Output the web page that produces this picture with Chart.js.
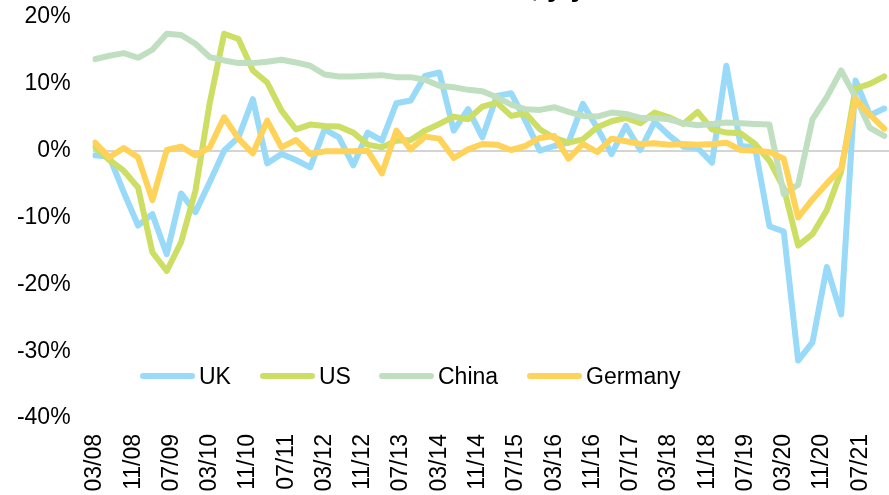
<!DOCTYPE html>
<html lang="en">
<head>
  <meta charset="UTF-8">
  <title>Retail sales, y/y</title>
  <script src="https://cdn.jsdelivr.net/npm/chart.js@4.4.2/dist/chart.umd.min.js"></script>
  <style>
    body {
      margin: 0;
      padding: 0;
      background: #fff;
      font-family: Arial, 'Liberation Sans', sans-serif;
    }

    .wrap {
      position: relative;
      width: 889px;
      height: 495px;
      overflow: hidden;
    }

    .title {
      position: absolute;
      right: 303px;
      top: -27px;
      font-size: 28px;
      line-height: 28px;
      font-weight: bold;
      color: #000;
      white-space: nowrap;
    }

    .legend-item {
      position: absolute;
      top: 362px;
      height: 28px;
      display: flex;
      align-items: center;
      font-size: 23px;
      color: #000;
    }

    .legend-item span.swatch {
      display: inline-block;
      width: 55px;
      height: 6px;
      border-radius: 3px;
      margin-right: 4px;
    }
  </style>
</head>
<body>

  <div class="wrap">
    <canvas id="myChart" width="889" height="495"></canvas>
    <div class="title">Retail sales, y/y</div>
    <div id="legend"></div>
  </div>

  <script>
    // quarterly observations
    const quarters = [
      "03/08","06/08","09/08","12/08","03/09","06/09","09/09","12/09",
      "03/10","06/10","09/10","12/10","03/11","06/11","09/11","12/11",
      "03/12","06/12","09/12","12/12","03/13","06/13","09/13","12/13",
      "03/14","06/14","09/14","12/14","03/15","06/15","09/15","12/15",
      "03/16","06/16","09/16","12/16","03/17","06/17","09/17","12/17",
      "03/18","06/18","09/18","12/18","03/19","06/19","09/19","12/19",
      "03/20","06/20","09/20","12/20","03/21","06/21","09/21","12/21"
    ];

    const uk = [
      -0.7, -0.9, -6.2, -11.2, -9.5, -15.5, -6.4, -9.2,
      -4.7, 0.0, 2.0, 7.7, -1.9, -0.5, -1.4, -2.5,
      3.2, 2.0, -2.2, 2.7, 1.5, 7.1, 7.5, 11.2,
      11.7, 3.0, 6.2, 2.0, 8.2, 8.6, 4.5, 0.0,
      0.7, 1.2, 7.0, 3.4, -0.5, 3.7, 0.1, 4.3,
      2.3, 0.6, 0.4, -1.8, 12.7, 0.7, 0.5, -11.3,
      -12.1, -31.4, -28.7, -17.4, -24.5, 10.5, 5.3, 6.3
    ];

    const us = [
      0.5, -1.4, -3.0, -5.5, -15.2, -18.0, -13.7, -6.0,
      7.2, 17.5, 16.7, 12.0, 10.2, 6.0, 3.2, 3.9,
      3.7, 3.6, 2.7, 0.9, 0.5, 1.5, 1.6, 3.0,
      4.0, 5.1, 4.7, 6.6, 7.2, 5.2, 5.6, 3.2,
      1.9, 1.2, 1.7, 3.5, 4.4, 4.9, 4.1, 5.7,
      5.0, 4.0, 5.8, 3.2, 2.7, 2.6, 1.0, -1.5,
      -5.6, -14.2, -12.5, -8.9, -3.1, 9.3, 10.0, 11.1
    ];

    const china = [
      13.7, 14.2, 14.6, 13.9, 15.1, 17.5, 17.3, 16.0,
      14.0, 13.5, 13.1, 13.1, 13.3, 13.6, 13.2, 12.7,
      11.4, 11.1, 11.1, 11.2, 11.3, 11.0, 11.0, 10.6,
      9.7, 9.5, 9.1, 8.9, 8.0, 6.9, 6.2, 6.1,
      6.5, 5.8, 5.2, 5.1, 5.7, 5.5, 4.9, 4.9,
      4.7, 4.1, 3.8, 4.0, 4.2, 4.1, 4.0, 3.9,
      -6.5, -5.1, 4.7, 8.0, 12.0, 8.0, 3.4, 2.2
    ];

    const germany = [
      1.2, -1.0, 0.4, -1.0, -7.4, 0.1, 0.6, -0.7,
      0.5, 5.0, 1.8, -0.4, 4.5, 0.5, 1.6, -0.5,
      -0.1, -0.1, -0.1, 0.0, -3.4, 3.0, 0.2, 2.1,
      1.8, -1.1, 0.2, 1.0, 0.9, 0.1, 0.7, 1.9,
      2.2, -1.2, 1.0, -0.2, 1.8, 1.4, 1.0, 1.1,
      0.9, 1.0, 0.9, 1.0, 1.2, 0.1, 0.0, -0.2,
      -1.2, -10.0, -7.3, -4.9, -2.7, 7.7, 5.4, 3.3
    ];

    const tickLabels = [
      "03/08","11/08","07/09","03/10","11/10","07/11","03/12","11/12",
      "07/13","03/14","11/14","07/15","03/16","11/16","07/17","03/18",
      "11/18","07/19","03/20","11/20","07/21"
    ];

    const yTicks = [-40, -30, -20, -10, 0, 10, 20];

    const series = [
      { label: 'UK', data: uk, color: '#98daf8', left: 140 },
      { label: 'US', data: us, color: '#ccde64', left: 260 },
      { label: 'China', data: china, color: '#c0dfc0', left: 379 },
      { label: 'Germany', data: germany, color: '#ffd25a', left: 527 }
    ];

    // months since 03/08
    function monthIndex(s) {
      const mm = parseInt(s.slice(0, 2), 10);
      const yy = parseInt(s.slice(3, 5), 10);
      return (yy - 8) * 12 + (mm - 3);
    }

    const labelByMonth = {};
    tickLabels.forEach(l => { labelByMonth[monthIndex(l)] = l; });

    // legend drawn as html over the plot
    const legend = document.getElementById('legend');
    series.forEach(s => {
      const item = document.createElement('div');
      item.className = 'legend-item';
      item.style.left = s.left + 'px';
      item.innerHTML = '<span class="swatch" style="background:' + s.color + '"></span>' + s.label;
      legend.appendChild(item);
    });

    const tickFont = { family: 'Arial, "Liberation Sans"', size: 23 };

    const ctx = document.getElementById('myChart').getContext('2d');
    new Chart(ctx, {
      type: 'line',
      data: {
        datasets: series.map((s, i) => ({
          label: s.label,
          data: quarters.map((q, k) => ({ x: monthIndex(q), y: s.data[k] })),
          borderColor: s.color,
          backgroundColor: s.color,
          borderWidth: 6,
          pointRadius: 0,
          tension: 0,
          borderJoinStyle: 'round',
          borderCapStyle: 'round',
          order: series.length - i
        }))
      },
      options: {
        responsive: false,
        animation: false,
        layout: { padding: { top: 17, right: 0, bottom: 0, left: 0 } },
        plugins: {
          legend: { display: false },
          tooltip: { enabled: false }
        },
        scales: {
          x: {
            type: 'linear',
            min: -0.5,
            max: 166,
            grid: { display: false, drawTicks: false },
            border: { display: false },
            afterBuildTicks: scale => {
              scale.ticks = tickLabels.map(l => ({ value: monthIndex(l) }));
            },
            afterFit: scale => {
              scale.height = 77;
              scale.paddingLeft = 0;
              scale.paddingRight = 0;
            },
            ticks: {
              autoSkip: false,
              minRotation: 90,
              maxRotation: 90,
              padding: 16,
              color: '#000',
              font: tickFont,
              callback: v => labelByMonth[v] || ''
            }
          },
          y: {
            min: -40,
            max: 20,
            afterBuildTicks: scale => {
              scale.ticks = yTicks.map(v => ({ value: v }));
            },
            afterFit: scale => {
              scale.width = 92.6;
              scale.paddingTop = 0;
              scale.paddingBottom = 0;
            },
            grid: {
              drawTicks: false,
              lineWidth: 2,
              color: c => c.tick && c.tick.value === 0 ? '#d4d4d4' : 'rgba(0,0,0,0)'
            },
            border: { display: false },
            ticks: {
              padding: 22,
              color: '#000',
              font: tickFont,
              callback: v => v + '%'
            }
          }
        }
      }
    });
  </script>

</body>
</html>
